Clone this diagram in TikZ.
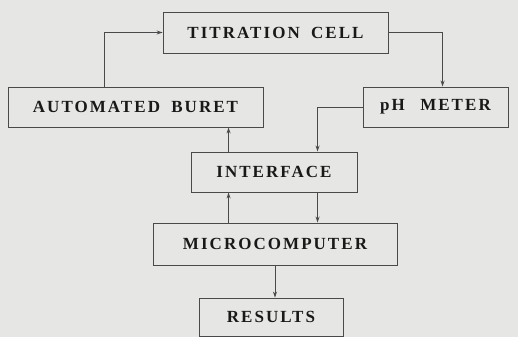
\documentclass[tikz,border=0pt]{standalone}
\usepackage{fontspec}
\newfontfamily\blockfont[LetterSpace=12, WordSpace=1.8]{Liberation Serif}
\usetikzlibrary{calc,arrows.meta}
\definecolor{paper}{HTML}{E6E6E4}
\definecolor{ink}{HTML}{4A4A4A}

\begin{document}
\begin{tikzpicture}[x=1pt, y=1pt, >={Stealth[length=6pt,width=4pt]}, line width=0.9pt,
    block/.style={draw=ink, fill=paper, inner sep=0pt, text=black!90,
      font=\blockfont\bfseries\fontsize{17}{20}\selectfont}]
      \fill[paper] (0,0) rectangle (518,337);
      \useasboundingbox (0,0) rectangle (518,337);
      % the six blocks, top to bottom
      \node[block, minimum width=225, minimum height=41] (cell) at (275.5,304.5) {TITRATION CELL};
      \node[block, minimum width=255, minimum height=40] (buret) at (135.5,230) {AUTOMATED BURET};
      \node[block, minimum width=145, minimum height=40] (meter) at (435.5,230) {pH\hspace{4pt} METER};
      \node[block, minimum width=166, minimum height=40] (iface) at (274,165) {INTERFACE};
      \node[block, minimum width=244, minimum height=42] (micro) at (275,93) {MICROCOMPUTER};
      \node[block, minimum width=144, minimum height=38] (results) at (271,20) {RESULTS};
      \coordinate (up) at ($(iface.north west)+(38,0)$);
      \coordinate (down) at ($(iface.north west)+(127,0)$);
      % buret feeds the cell, cell feeds the meter
      \draw[->, ink] ($(buret.north west)+(97,0)$) |- (cell.west);
      \draw[->, ink] (cell.east) -| ($(meter.north west)+(80,0)$);
      % meter reading into the interface
      \draw[->, ink] (meter.west) -| (down);
      % interface and microcomputer links
      \draw[->, ink] (up) -- (up |- buret.south);
      \draw[->, ink] (up |- micro.north) -- (up |- iface.south);
      \draw[->, ink] (down |- iface.south) -- (down |- micro.north);
      \draw[->, ink] (micro.south) -- (micro.south |- results.north);
    \end{tikzpicture}
\end{document}
